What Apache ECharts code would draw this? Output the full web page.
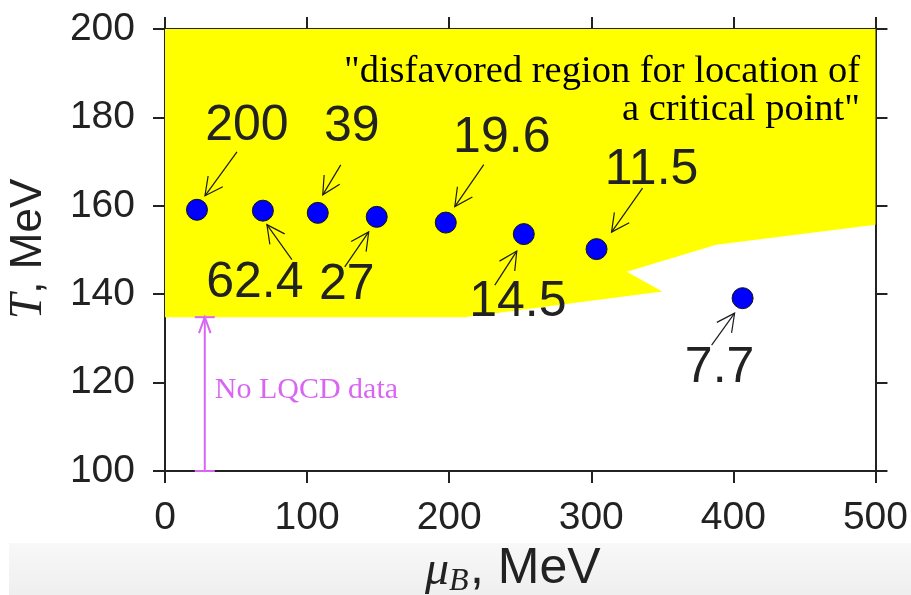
<!DOCTYPE html>
<html><head><meta charset="utf-8">
<script src="https://cdn.jsdelivr.net/npm/echarts@6/dist/echarts.min.js"></script>
<style>html,body{margin:0;padding:0;background:#fff}#c{width:911px;height:595px}</style>
</head><body><div id="c"></div>
<script>
// ---- data ----
const energies = ['200', '62.4', '39', '27', '19.6', '14.5', '11.5', '7.7'];
const muB = [22.5, 68.9, 107.5, 149, 197.6, 252.5, 303.7, 406.5];
const temp = [159.1, 158.9, 158.4, 157.5, 156.2, 153.6, 150.2, 139.1];
// disfavored (yellow) region boundary
const regionMu = [0, 500, 500, 388, 325, 350, 210.6, 0];
const regionT = [200, 200, 155.7, 151.2, 145.1, 140.6, 134.8, 134.8];
// "No LQCD data" range
const lqcdMu = 28;
const lqcdT = [100, 134.8];
const xRange = [0, 500, 100];
const yRange = [100, 200, 20];

// ---- layout of annotations (pixel offsets from the point): label dx,dy, tail dx,dy, head dx,dy
const annLayout = [
  [50, -84, 40, -58, 8, -14],
  [-8, 73, 29, 49, 4, 14],
  [34, -86, 23, -48, 5, -18],
  [-30, 68, -32, 50, -8, 15],
  [56, -84, 38, -58, 9, -16],
  [-6, 68, -29, 51, -7, 17],
  [55, -79, 46, -61, 15, -17],
  [-23, 70, -31, 47, -8, 15]
];

const DARK = '#222222';
const SANS = '"Liberation Sans", Arial, sans-serif';
const SERIF = '"Liberation Serif", "Times New Roman", serif';
const MAG = '#d966f2';

const chart = echarts.init(document.getElementById('c'));

function arrowHead(hx, hy, tx, ty, L, angDeg) {
  const dx = tx - hx, dy = ty - hy, len = Math.hypot(dx, dy);
  const ux = dx / len, uy = dy / len;
  const a = angDeg * Math.PI / 180;
  const b1 = [hx + L * (ux * Math.cos(a) - uy * Math.sin(a)), hy + L * (ux * Math.sin(a) + uy * Math.cos(a))];
  const b2 = [hx + L * (ux * Math.cos(-a) - uy * Math.sin(-a)), hy + L * (ux * Math.sin(-a) + uy * Math.cos(-a))];
  return [b1, [hx, hy], b2];
}

const axisCommon = {
  type: 'value',
  axisLine: { show: true, onZero: false, lineStyle: { color: DARK, width: 2 } },
  axisTick: { show: true, inside: false, length: 12, lineStyle: { color: DARK, width: 2 } },
  splitLine: { show: false }
};

const option = {
  backgroundColor: '#fff',
  animation: false,
  grid: { left: 165, right: 35, top: 29, bottom: 124, containLabel: false },
  xAxis: [
    Object.assign({}, axisCommon, {
      position: 'bottom', min: xRange[0], max: xRange[1], interval: xRange[2],
      axisLabel: { show: true, margin: 28, fontSize: 39, fontFamily: SANS, color: DARK }
    }),
    Object.assign({}, axisCommon, {
      position: 'top', min: xRange[0], max: xRange[1], interval: xRange[2],
      axisLabel: { show: false }
    })
  ],
  yAxis: [
    Object.assign({}, axisCommon, {
      position: 'left', min: yRange[0], max: yRange[1], interval: yRange[2],
      axisLabel: { show: true, margin: 30, fontSize: 39, fontFamily: SANS, color: DARK }
    }),
    Object.assign({}, axisCommon, {
      position: 'right', min: yRange[0], max: yRange[1], interval: yRange[2],
      axisLabel: { show: false }
    })
  ],
  graphic: [
    { type: 'rect', z: -10, shape: { x: 9, y: 543, width: 902, height: 52 },
      style: { fill: new echarts.graphic.LinearGradient(0, 0, 0, 1, [{ offset: 0, color: '#f8f8f8' }, { offset: 1, color: '#efefef' }]) } },
    { type: 'text', z: 50, x: 860, y: 72,
      style: { text: '"disfavored region for location of', font: '38.5px ' + SERIF, fill: '#000', align: 'right', verticalAlign: 'middle' } },
    { type: 'text', z: 50, x: 860, y: 110,
      style: { text: 'a critical point"', font: '38.5px ' + SERIF, fill: '#000', align: 'right', verticalAlign: 'middle' } },
    // y axis name
    { type: 'text', z: 50, x: 29, y: 249, rotation: Math.PI / 2,
      style: { text: '{i|T}, MeV', font: '44px ' + SANS, fill: DARK, align: 'center', verticalAlign: 'middle',
        rich: { i: { font: 'italic 46px ' + SERIF, fill: DARK } } } },
    // x axis name
    { type: 'group', z: 50, children: [
      { type: 'text', x: 449, y: 571, style: { text: 'μ', font: 'italic 48px ' + SERIF, fill: DARK, align: 'right', verticalAlign: 'middle' } },
      { type: 'text', x: 449, y: 582, style: { text: 'B', font: 'italic 32px ' + SERIF, fill: DARK, align: 'left', verticalAlign: 'middle' } },
      { type: 'text', x: 470, y: 569, style: { text: ', MeV', font: '50px ' + SANS, fill: DARK, align: 'left', verticalAlign: 'middle' } }
    ] }
  ],
  series: [
    {
      type: 'custom', name: 'region', z: 1, silent: true,
      data: [[regionMu[0], regionT[0]]],
      renderItem: function (params, api) {
        const pts = regionMu.map((m, i) => api.coord([m, regionT[i]]));
        return { type: 'polygon', shape: { points: pts }, style: { fill: '#ffff00', stroke: null } };
      }
    },
    {
      type: 'custom', name: 'lqcd', z: 3, silent: true,
      data: [[lqcdMu, lqcdT[0], lqcdT[1]]],
      renderItem: function (params, api) {
        const b = api.coord([api.value(0), api.value(1)]);
        const t = api.coord([api.value(0), api.value(2)]);
        const ls = { stroke: MAG, lineWidth: 2, fill: null };
        const head = arrowHead(t[0], t[1], b[0], b[1], 17, 20);
        return { type: 'group', children: [
          { type: 'line', shape: { x1: b[0], y1: b[1], x2: t[0], y2: t[1] }, style: ls },
          { type: 'line', shape: { x1: b[0] - 10, y1: b[1], x2: b[0] + 10, y2: b[1] }, style: ls },
          { type: 'line', shape: { x1: t[0] - 10, y1: t[1], x2: t[0] + 10, y2: t[1] }, style: ls },
          { type: 'polyline', shape: { points: head }, style: ls },
          { type: 'text', x: b[0] + 10, y: (b[1] + t[1]) / 2 - 4,
            style: { text: 'No LQCD data', font: '30px ' + SERIF, fill: MAG, align: 'left', verticalAlign: 'middle' } }
        ] };
      }
    },
    {
      type: 'custom', name: 'annotations', z: 4, silent: true,
      data: muB.map((m, i) => [m, temp[i], i]),
      renderItem: function (params, api) {
        const p = api.coord([api.value(0), api.value(1)]);
        const i = api.value(2);
        const L = annLayout[i];
        const tx = p[0] + L[2], ty = p[1] + L[3], hx = p[0] + L[4], hy = p[1] + L[5];
        const ls = { stroke: '#1a1a1a', lineWidth: 1.2, fill: null };
        return { type: 'group', children: [
          { type: 'line', shape: { x1: tx, y1: ty, x2: hx, y2: hy }, style: ls },
          { type: 'polyline', shape: { points: arrowHead(hx, hy, tx, ty, 20, 27) }, style: ls },
          { type: 'text', x: p[0] + L[0], y: p[1] + L[1],
            style: { text: energies[i], font: '50px ' + SANS, fill: '#222', align: 'center', verticalAlign: 'middle' } }
        ] };
      }
    },
    {
      type: 'scatter', name: 'points', z: 5,
      data: muB.map((m, i) => [m, temp[i]]),
      symbol: 'circle', symbolSize: 21,
      itemStyle: { color: '#0000ff', borderColor: '#111', borderWidth: 1, opacity: 1 }
    }
  ]
};
chart.setOption(option);
</script>
</body></html>
